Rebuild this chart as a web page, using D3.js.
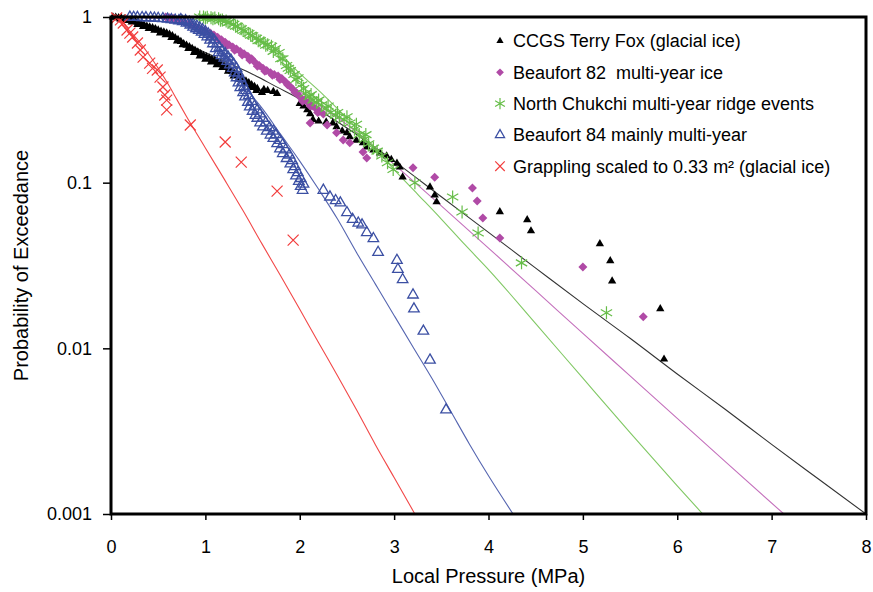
<!DOCTYPE html>
<html lang="en">
<head>
<meta charset="utf-8">
<title>Local pressure exceedance</title>
<script src="https://cdn.jsdelivr.net/npm/d3@7"></script>
<style>
  body { margin: 0; background: #fff; }
  svg { font-family: "Liberation Sans", Arial, sans-serif; }
  .axis text { font-size: 18px; fill: #000; }
  .axis path { display: none; }
  .axis line { stroke: #000; stroke-width: 1.5px; }
  .title { font-size: 20px; fill: #000; }
  .legend text { font-size: 18px; fill: #000; white-space: pre; }
</style>
</head>
<body>
<svg id="chart" width="873" height="592"></svg>
<script>
// tick labels
var xTicks = [0, 1, 2, 3, 4, 5, 6, 7, 8];
var yTicks = [1, 0.1, 0.01, 0.001];

// legend names
var seriesNames = [
  "CCGS Terry Fox (glacial ice)",
  "Beaufort 82  multi-year ice",
  "North Chukchi multi-year ridge events",
  "Beaufort 84 mainly multi-year",
  "Grappling scaled to 0.33 m\u00b2 (glacial ice)"
];

// data points [pressure MPa, probability of exceedance]
var terryFox = [
  [0.02,1.0],[0.05,0.995],[0.08,0.99],[0.11,0.985],[0.14,0.975],[0.17,0.965],[0.20,0.955],[0.23,0.945],
  [0.26,0.935],[0.29,0.925],[0.32,0.91],[0.35,0.895],[0.38,0.88],[0.41,0.87],[0.44,0.86],[0.47,0.85],
  [0.50,0.835],[0.53,0.82],[0.56,0.81],[0.59,0.80],[0.62,0.785],[0.65,0.77],[0.68,0.75],[0.71,0.73],
  [0.74,0.71],[0.77,0.69],[0.80,0.675],[0.83,0.66],[0.86,0.645],[0.89,0.63],[0.92,0.615],[0.95,0.60],
  [0.98,0.585],[1.01,0.575],[1.04,0.565],[1.07,0.555],[1.10,0.545],[1.13,0.535],[1.16,0.525],[1.19,0.515],
  [1.22,0.50],[1.25,0.485],[1.28,0.47],[1.31,0.455],[1.34,0.445],[1.37,0.435],[1.40,0.42],[1.43,0.41],
  [1.46,0.40],[1.49,0.39],[1.52,0.38],[1.55,0.37],[1.62,0.365],[1.66,0.36],[1.72,0.355],[1.76,0.345],
  [0.10,0.97],[0.16,0.95],[0.22,0.93],[0.28,0.90],[0.34,0.875],[0.40,0.85],[0.46,0.83],[0.52,0.80],
  [0.58,0.78],[0.64,0.75],[0.70,0.715],[0.76,0.68],[0.82,0.645],[0.88,0.61],[0.94,0.58],[1.00,0.555],
  [1.06,0.535],[1.12,0.515],[1.18,0.495],[1.24,0.47],[1.30,0.44],[1.36,0.42],[1.42,0.395],[1.48,0.375],
  [1.54,0.36],[1.60,0.35],
  [2.00,0.30],[2.04,0.29],[2.08,0.275],[2.11,0.26],[2.14,0.24],[2.20,0.235],[2.28,0.232],[2.35,0.229],
  [2.39,0.217],[2.45,0.205],[2.50,0.20],[2.53,0.189],[2.60,0.18],[2.67,0.174],[2.71,0.164],[2.78,0.157],
  [2.85,0.151],[2.92,0.145],[2.97,0.138],[3.03,0.131],[3.06,0.124],[3.09,0.108],[3.38,0.094],[3.43,0.084],
  [3.45,0.0765],[4.12,0.0666],[4.41,0.0596],[4.45,0.0511],[5.18,0.0427],[5.29,0.0337],[5.31,0.0255],
  [5.82,0.0173],[5.86,0.0086]
];
var beaufort82 = [
  [0.58,1.0],[0.62,0.99],[0.66,0.98],[0.72,0.96],[0.78,0.93],[0.84,0.90],[0.90,0.87],[0.96,0.84],[1.00,0.82],
  [1.05,0.80],[1.09,0.78],[1.13,0.755],[1.17,0.73],[1.21,0.705],[1.25,0.68],[1.29,0.66],[1.33,0.64],
  [1.37,0.62],[1.41,0.60],[1.45,0.58],[1.49,0.56],[1.53,0.53],[1.57,0.51],[1.61,0.49],[1.65,0.475],
  [1.69,0.46],[1.73,0.45],[1.77,0.44],[1.81,0.425],[1.85,0.405],[1.89,0.385],[1.93,0.365],[1.97,0.345],
  [2.01,0.325],[2.05,0.315],[2.09,0.305],[2.13,0.29],[2.17,0.28],[2.21,0.27],[2.25,0.26],
  [1.07,0.77],[1.15,0.725],[1.23,0.675],[1.31,0.63],[1.39,0.59],[1.47,0.55],[1.55,0.505],[1.63,0.47],
  [1.71,0.445],[1.79,0.42],[1.87,0.39],[1.95,0.35],[2.03,0.31],[2.11,0.29],[2.19,0.265],
  [2.11,0.229],[2.29,0.223],[2.39,0.20],[2.46,0.181],[2.53,0.174],[2.67,0.153],[2.71,0.141],[3.20,0.123],
  [3.43,0.108],[3.83,0.093],[3.88,0.0776],[3.94,0.0612],[4.12,0.0464],[5.00,0.031],[5.64,0.0155]
];
var chukchi = [
  [0.94,1.0],[0.98,1.0],[1.02,0.995],[1.06,0.99],[1.10,0.985],[1.14,0.975],[1.18,0.96],[1.22,0.945],
  [1.26,0.93],[1.30,0.905],[1.34,0.88],[1.38,0.85],[1.42,0.82],[1.46,0.795],[1.50,0.77],[1.54,0.745],
  [1.58,0.72],[1.62,0.70],[1.66,0.68],[1.70,0.665],[1.74,0.645],[1.78,0.61],[1.82,0.56],[1.86,0.51],
  [1.90,0.475],[1.94,0.45],[1.98,0.43],[2.02,0.39],[2.06,0.345],[2.10,0.33],[2.14,0.315],[2.18,0.305],
  [2.23,0.295],[2.28,0.28],[2.33,0.265],[2.38,0.255],[2.42,0.249],[2.47,0.24],[2.53,0.229],[2.58,0.21],
  [2.63,0.195],[2.68,0.182],[2.73,0.172],[2.78,0.162],[2.82,0.155],[2.87,0.145],[2.93,0.132],[2.99,0.12],
  [1.00,0.985],[1.08,0.975],[1.16,0.955],[1.24,0.925],[1.32,0.88],[1.40,0.83],[1.48,0.775],[1.56,0.72],
  [1.64,0.675],[1.72,0.62],[1.80,0.56],[1.88,0.49],[1.96,0.42],[2.04,0.37],[2.12,0.34],[2.20,0.315],
  [2.30,0.29],[2.40,0.265],[2.50,0.25],[2.60,0.225],[2.70,0.195],
  [3.22,0.10],[3.62,0.082],[3.72,0.0666],[3.89,0.0497],[4.35,0.0328],[5.25,0.0164]
];
var beaufort84 = [
  [0.20,0.998],[0.24,0.996],[0.28,0.994],[0.33,0.992],[0.37,0.99],[0.42,0.988],[0.46,0.985],[0.50,0.982],
  [0.55,0.978],[0.60,0.972],[0.64,0.965],[0.68,0.958],[0.72,0.95],[0.76,0.94],[0.80,0.92],[0.84,0.895],
  [0.87,0.87],[0.90,0.85],[0.93,0.83],[0.96,0.81],[0.99,0.785],[1.02,0.76],[1.05,0.726],[1.08,0.69],
  [1.11,0.645],[1.14,0.61],[1.17,0.585],[1.20,0.565],[1.23,0.54],[1.26,0.515],[1.29,0.49],[1.31,0.46],
  [1.33,0.43],[1.35,0.40],[1.37,0.375],[1.40,0.35],[1.42,0.33],[1.45,0.305],[1.47,0.287],[1.50,0.27],
  [1.53,0.255],[1.55,0.245],[1.58,0.23],[1.61,0.217],[1.65,0.205],[1.69,0.194],[1.72,0.185],[1.76,0.172],
  [1.79,0.16],[1.82,0.15],[1.86,0.14],[1.90,0.13],[1.93,0.12],[1.96,0.11],[1.99,0.102],[2.01,0.095],
  [2.03,0.09],
  [0.74,0.965],[0.79,0.95],[0.83,0.93],[0.87,0.905],[0.91,0.88],[0.94,0.86],[0.97,0.84],[1.00,0.815],
  [1.03,0.79],[1.06,0.76],[1.09,0.73],[1.12,0.69],[1.15,0.655],[1.18,0.625],[1.21,0.60],[1.24,0.575],
  [1.27,0.55],[1.30,0.52],[1.33,0.49],[1.35,0.46],[1.37,0.43],[1.39,0.405],[1.41,0.38],[1.43,0.36],
  [1.46,0.335],[1.49,0.31],[1.52,0.29],[1.55,0.275],[1.58,0.26],[1.61,0.245],[1.64,0.23],[1.68,0.215],
  [1.72,0.205],[1.75,0.195],[1.79,0.18],[1.82,0.17],[1.85,0.158],[1.89,0.147],[1.92,0.136],[1.95,0.125],
  [1.98,0.115],[2.01,0.106],[2.04,0.098],
  [2.25,0.090],[2.32,0.082],[2.38,0.078],[2.43,0.0755],[2.50,0.066],[2.56,0.060],[2.62,0.057],
  [2.66,0.0556],[2.71,0.050],[2.78,0.046],[2.83,0.038],[3.03,0.034],[3.04,0.030],[3.09,0.026],[3.20,0.021],
  [3.21,0.0173],[3.31,0.0127],[3.38,0.0085],[3.55,0.00425]
];
var grappling = [
  [0.06,0.986],[0.10,0.96],[0.13,0.92],[0.17,0.835],[0.20,0.80],[0.23,0.757],[0.28,0.697],[0.31,0.632],
  [0.34,0.573],[0.41,0.527],[0.44,0.49],[0.49,0.479],[0.52,0.434],[0.55,0.378],[0.57,0.338],[0.59,0.315],
  [0.59,0.275],[0.84,0.223],[1.21,0.176],[1.38,0.133],[1.76,0.089],[1.93,0.045]
];

// fitted curves [pressure MPa, probability of exceedance]
var terryFoxFit = [
  [0,1],[0.25,0.912],[0.5,0.813],[0.75,0.708],[1.0,0.61],[1.25,0.525],[1.5,0.452],[1.75,0.38],[2.0,0.32],
  [2.5,0.214],[3.0,0.135],[3.5,0.0822],[4.0,0.0501],[4.5,0.0305],[5.0,0.0186],[5.5,0.0115],[6.0,0.007],
  [6.5,0.00432],[7.0,0.00263],[7.5,0.00162],[8.0,0.001]
];
var beaufort82Fit = [
  [0,1],[0.5,0.982],[0.8,0.912],[1.0,0.813],[1.25,0.676],[1.5,0.55],[1.75,0.447],[2.0,0.355],[2.25,0.282],
  [2.5,0.224],[3.0,0.129],[3.5,0.0724],[4.0,0.0403],[4.5,0.0223],[5.0,0.0123],[5.5,0.00682],[6.0,0.00378],
  [6.5,0.00209],[7.13,0.001]
];
var chukchiFit = [
  [0,1],[0.8,0.995],[1.0,0.977],[1.25,0.912],[1.5,0.776],[1.75,0.631],[2.0,0.457],[2.25,0.339],[2.5,0.245],
  [2.75,0.174],[3.0,0.12],[3.25,0.0851],[3.5,0.0603],[3.75,0.0422],[4.0,0.0299],[4.5,0.0141],[5.0,0.0066],
  [5.5,0.0031],[6.0,0.00148],[6.27,0.001]
];
var beaufort84Fit = [
  [0,1],[0.4,0.993],[0.6,0.977],[0.8,0.912],[0.9,0.851],[1.0,0.776],[1.1,0.676],[1.2,0.562],[1.3,0.468],
  [1.4,0.389],[1.5,0.331],[1.6,0.282],[1.8,0.195],[2.0,0.135],[2.2,0.0912],[2.4,0.0603],[2.6,0.038],
  [2.8,0.0245],[3.0,0.0158],[3.2,0.0102],[3.4,0.0066],[3.6,0.00417],[3.8,0.00263],[4.0,0.0017],[4.26,0.001]
];
var grapplingFit = [
  [0,1],[0.1,0.923],[0.2,0.822],[0.3,0.708],[0.4,0.596],[0.5,0.49],[0.6,0.398],[0.7,0.316],[0.8,0.251],
  [1.0,0.162],[1.2,0.105],[1.4,0.0676],[1.6,0.0427],[1.8,0.0272],[2.0,0.0172],[2.2,0.0108],[2.4,0.00684],
  [2.6,0.00427],[2.8,0.00263],[3.0,0.00166],[3.22,0.001]
];

var svg = d3.select('#chart');
var plotLeft = 111, plotRight = 866, plotTop = 17, plotBottom = 514;

var xScale = d3.scaleLinear().domain([0, 8]).range([plotLeft, plotRight]);
var yScale = d3.scaleLog().domain([0.001, 1]).range([plotBottom, plotTop]);

var colors = ['#000000', '#b04aa6', '#66bd48', '#3b4fa3', '#f23c3c'];
var lineColors = ['#333333', '#c470bc', '#80c864', '#5565b0', '#f24848'];

// marker shapes
var tri = d3.symbol().type(d3.symbolTriangle);
function diamondPath(r) {
  return 'M0,' + (-r) + 'L' + r + ',0L0,' + r + 'L' + (-r) + ',0Z';
}
function crossPath(r) {
  return 'M' + (-r) + ',' + (-r) + 'L' + r + ',' + r + 'M' + (-r) + ',' + r + 'L' + r + ',' + (-r);
}
function starPath(r) {
  var a = r * 0.87, b = r * 0.5;
  return 'M0,' + (-r) + 'L0,' + r + 'M' + (-a) + ',' + (-b) + 'L' + a + ',' + b + 'M' + (-a) + ',' + b + 'L' + a + ',' + (-b);
}
var markers = [
  function (g, s) { g.append('path').attr('d', tri.size(30 * s)()).attr('fill', colors[0]); },
  function (g, s) { g.append('path').attr('d', diamondPath(4.5 * Math.sqrt(s))).attr('fill', colors[1]); },
  function (g, s) { g.append('path').attr('d', starPath(6.5 * Math.sqrt(s))).attr('stroke', colors[2]).attr('stroke-width', 1.2).attr('fill', 'none'); },
  function (g, s) { g.append('path').attr('d', tri.size(48 * s)()).attr('stroke', colors[3]).attr('stroke-width', 1.3).attr('fill', 'none'); },
  function (g, s) { g.append('path').attr('d', crossPath(5.5 * Math.sqrt(s))).attr('stroke', colors[4]).attr('stroke-width', 1.2).attr('fill', 'none'); }
];

var clip = svg.append('clipPath').attr('id', 'plotclip');
clip.append('rect').attr('x', plotLeft).attr('y', plotTop - 6).attr('width', plotRight - plotLeft + 6).attr('height', plotBottom - plotTop + 6);

// fitted lines
var line = d3.line()
  .x(function (d) { return xScale(d[0]); })
  .y(function (d) { return yScale(d[1]); })
  .curve(d3.curveMonotoneX);

var fits = [terryFoxFit, beaufort82Fit, chukchiFit, beaufort84Fit, grapplingFit];
var lineG = svg.append('g').attr('clip-path', 'url(#plotclip)');
fits.forEach(function (f, i) {
  lineG.append('path')
    .datum(f)
    .attr('d', line)
    .attr('fill', 'none')
    .attr('stroke', lineColors[i])
    .attr('stroke-width', 1.1);
});

// data markers
var series = [terryFox, beaufort82, chukchi, beaufort84, grappling];
series.forEach(function (data, i) {
  var g = svg.append('g').attr('class', 'series' + i);
  g.selectAll('g')
    .data(data)
    .enter()
    .append('g')
    .attr('transform', function (d) { return 'translate(' + xScale(d[0]) + ',' + yScale(d[1]) + ')'; })
    .each(function () { markers[i](d3.select(this), 1); });
});

// axes
var yAxis = d3.axisLeft(yScale)
  .tickValues(yTicks)
  .tickFormat(function (d) { return String(d); })
  .tickSize(8)
  .tickPadding(11);
svg.append('g')
  .attr('class', 'axis')
  .attr('transform', 'translate(' + plotLeft + ',0)')
  .call(yAxis);

var xAxis = d3.axisBottom(xScale)
  .tickValues(xTicks)
  .tickFormat(d3.format('d'))
  .tickSize(6)
  .tickPadding(20);
svg.append('g')
  .attr('class', 'axis')
  .attr('transform', 'translate(0,' + plotBottom + ')')
  .call(xAxis);

// plot frame
svg.append('rect')
  .attr('x', plotLeft)
  .attr('y', plotTop)
  .attr('width', plotRight - plotLeft)
  .attr('height', plotBottom - plotTop)
  .attr('fill', 'none')
  .attr('stroke', '#000')
  .attr('stroke-width', 3);

// titles
svg.append('text')
  .attr('class', 'title')
  .attr('x', (plotLeft + plotRight) / 2)
  .attr('y', 583)
  .attr('text-anchor', 'middle')
  .text('Local Pressure (MPa)');

svg.append('text')
  .attr('class', 'title')
  .attr('transform', 'translate(28,' + ((plotTop + plotBottom) / 2) + ') rotate(-90)')
  .attr('text-anchor', 'middle')
  .text('Probability of Exceedance');

// legend
var legend = svg.append('g').attr('class', 'legend');
seriesNames.forEach(function (name, i) {
  var row = legend.append('g').attr('transform', 'translate(500,' + (41 + i * 31.3) + ')');
  markers[i](row, 0.75);
  row.append('text')
    .attr('x', 13)
    .attr('dy', '0.35em')
    .text(name);
});
</script>
</body>
</html>
